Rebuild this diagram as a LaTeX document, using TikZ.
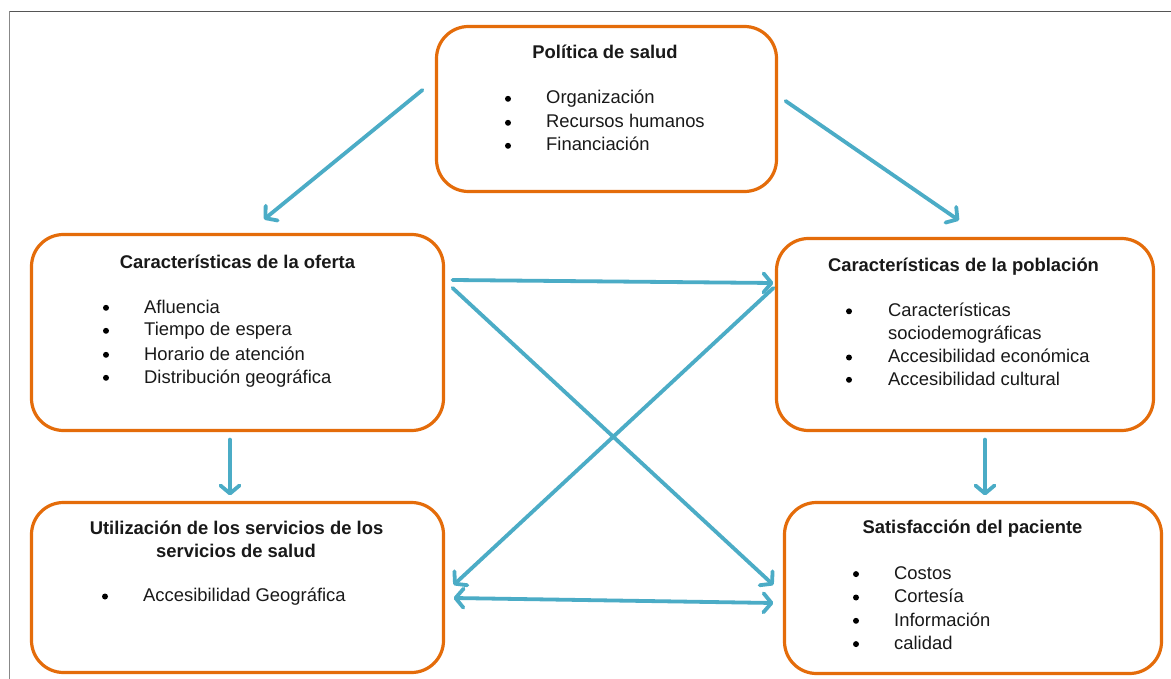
\documentclass[tikz,border=0pt]{standalone}
\usepackage{fontspec}
\setmainfont{Liberation Sans}
\usetikzlibrary{arrows.meta,calc}
\definecolor{boxorange}{HTML}{E46C0A}
\definecolor{arrblue}{HTML}{4BACC6}
\definecolor{frame}{HTML}{555555}
\newcommand\myitem[5]{%
  \node[bulletnode] (#1b) at (#2,#3-5.2) {};
  \node[itemtext] (#1) at (#4,#3) {#5};}
\begin{document}
\begin{tikzpicture}[x=1pt,y=-1pt,
  box/.style={draw=boxorange,line width=3.2pt,rounded corners=32pt,
    rectangle,inner sep=0pt,fill=white},
  titletext/.style={font=\fontsize{18.4}{23}\selectfont\bfseries,anchor=base,inner sep=0pt,text=black!90},
  itemtext/.style={font=\fontsize{18.4}{23}\selectfont,anchor=base west,inner sep=0pt,text=black!90},
  bulletnode/.style={circle,fill=black,inner sep=0pt,minimum size=6pt},
  tipb/.tip={Straight Barb[length=8pt,width=19pt,line cap=round,line join=round]},
  arr/.style={draw=arrblue,line width=3.8pt,line cap=round,-tipb},
  darr/.style={draw=arrblue,line width=3.8pt,line cap=round,tipb-tipb}
]
\useasboundingbox (0,0) rectangle (1171,679);
\fill[white] (0,0) rectangle (1171,679);
% frame
\draw[frame!70,line width=1.2pt] (9.5,679) -- (9.5,11.5);
\draw[frame,line width=1.2pt] (9.5,11.5) -- (1171,11.5);

% boxes
\node[box,minimum width=340pt,minimum height=165pt] (pol) at (606.5,109) {};
\node[box,minimum width=412pt,minimum height=196pt] (of) at (237.5,332.5) {};
\node[box,minimum width=377pt,minimum height=192pt] (pob) at (965,334.5) {};
\node[box,minimum width=412pt,minimum height=170pt] (ut) at (237.5,587.5) {};
\node[box,minimum width=377pt,minimum height=171pt] (sat) at (973,588) {};

% Politica
\node[titletext] (polt) at (605,59) {Política de salud};
\myitem{pola}{508}{104}{546}{Organización}
\myitem{polb}{508}{128}{546}{Recursos humanos}
\myitem{polc}{508}{151}{546}{Financiación}

% Oferta
\node[titletext] (oft) at (237.5,269) {Características de la oferta};
\myitem{ofa}{106}{313}{144}{Afluencia}
\myitem{ofb}{106}{336}{144}{Tiempo de espera}
\myitem{ofc}{106}{360}{144}{Horario de atención}
\myitem{ofd}{106}{383}{144}{Distribución geográfica}

% Poblacion
\node[titletext] (pobt) at (963.5,271.5) {Características de la población};
\myitem{poba}{849}{316.5}{888}{Características}
\node[itemtext] (pobaa) at (888,339.5) {sociodemográficas};
\myitem{pobb}{849}{362.7}{888}{Accesibilidad económica}
\myitem{pobc}{849}{385}{888}{Accesibilidad cultural}

% Utilizacion
\node[titletext] (utt1) at (236.5,534) {Utilización de los servicios de los};
\node[titletext] (utt2) at (236,557) {servicios de salud};
\myitem{uta}{105}{601.7}{143}{Accesibilidad Geográfica}

% Satisfaccion
\node[titletext] (satt) at (972.5,533.3) {Satisfacción del paciente};
\myitem{sata}{856}{579.3}{894}{Costos}
\myitem{satb}{856}{602.7}{894}{Cortesía}
\myitem{satc}{856}{626}{894}{Información}
\myitem{satd}{856}{649.3}{894}{calidad}

% connectors
\draw[arr] ($(pol.west)+(-12.5,-19)$) -- ($(of.north)+(26.5,-13.5)$);
\draw[arr] ($(pol.east)+(7.5,-8)$) -- ($(pob.north)+(-6,-16.5)$);
\draw[arr] ($(of.east)+(7.5,-52.5)$) -- ($(pob.west)+(-1.5,-51.5)$);
\draw[arr] ($(of.east)+(7.5,-44.5)$) -- ($(sat.west)+(-9.5,-3)$);
\draw[arr] ($(pob.west)+(-1.5,-46.5)$) -- ($(ut.east)+(8.5,-2.5)$);
\draw[darr] ($(ut.east)+(8.5,10.5)$) -- ($(sat.west)+(-9.5,15)$);
\draw[arr] ($(of.south)+(-7.5,7.5)$) -- ($(ut.north)+(-7.5,-5.5)$);
\draw[arr] ($(pob.south)+(20,7.5)$) -- ($(sat.north)+(12,-5.5)$);
\end{tikzpicture}
\end{document}
